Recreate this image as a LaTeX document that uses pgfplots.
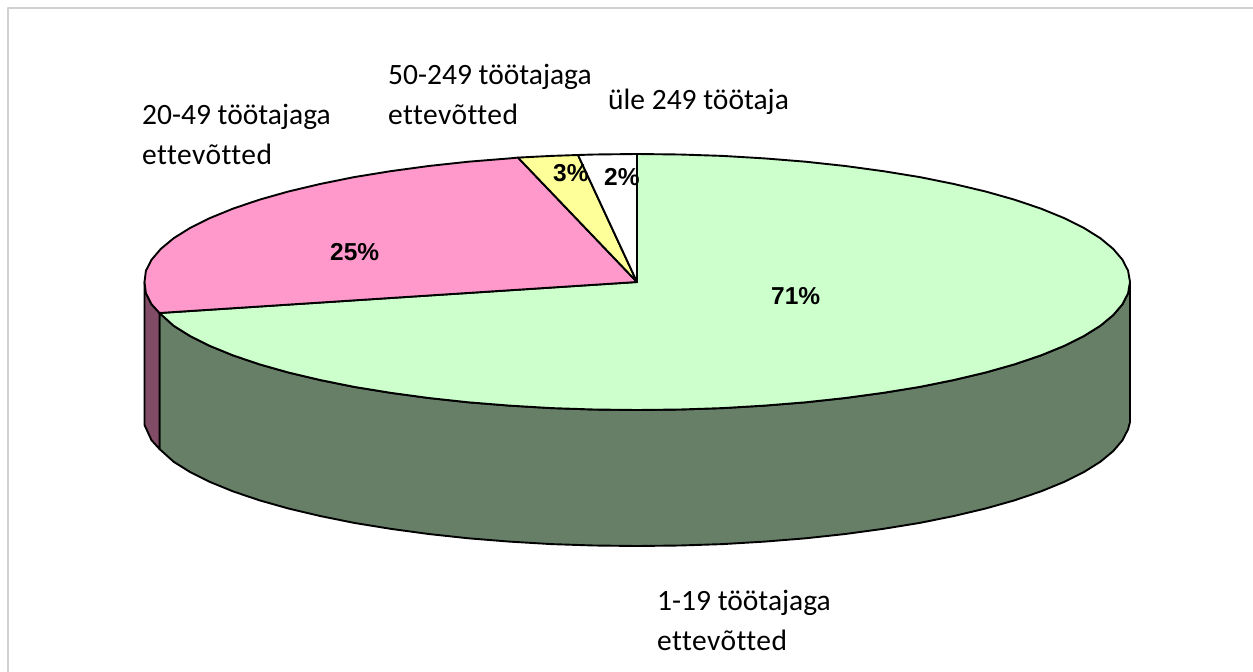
\documentclass[border=0pt]{standalone}
\usepackage{pgfplots}
\pgfplotsset{compat=1.18}
\usepackage{fontspec}
\setmainfont{Carlito}[Ligatures=NoCommon]
\newfontfamily\pctfont{Liberation Sans}[BoldFont={Liberation Sans Bold}]
\definecolor{cGreen}{HTML}{CCFFCC}
\definecolor{cPink}{HTML}{FF99CC}
\definecolor{cYellow}{HTML}{FFFF99}
\definecolor{cGreenWall}{HTML}{667F66}
\definecolor{cPinkWall}{HTML}{804C66}
\definecolor{cFrame}{HTML}{D0D0D0}
\begin{document}
\begin{tikzpicture}
\begin{axis}[
  width=1253pt, height=672pt, scale only axis,
  xmin=0, xmax=1253, ymin=0, ymax=672, y dir=reverse,
  hide axis, clip=true,
  every axis plot/.append style={line join=round},
]
% canvas corners
\addplot[draw=none, forget plot] coordinates {(0,0) (1253,672)};
% frame
\addplot[cFrame, line width=2pt] coordinates {(7.5,672) (7.5,7.5) (1253,7.5)};
% wall of 71 % slice
\addplot[fill=cGreenWall, draw=black, line width=1.9pt] coordinates {
(1130,282) (1128.1,293.2) (1122.5,304.2) (1113.2,315.1) (1100.3,325.8) (1083.8,336.1) (1063.9,346) (1040.9,355.4)
(1014.6,364.3) (985.6,372.5) (953.9,380) (919.8,386.9) (883.5,392.8) (845.3,398) (805.6,402.3) (764.6,405.6)
(722.6,408.1) (680,409.5) (637,410) (594,409.5) (551.4,408.1) (509.4,405.6) (468.4,402.3) (428.7,398)
(390.5,392.8) (354.2,386.9) (320.1,380) (288.4,372.5) (259.4,364.3) (233.1,355.4) (210.1,346) (190.2,336.1)
(173.7,325.8) (159.5,313)
(159.5,449) (173.7,461.8) (190.2,472.1) (210.1,482) (233.1,491.4) (259.4,500.3) (288.4,508.5) (320.1,516)
(354.2,522.9) (390.5,528.8) (428.7,534) (468.4,538.3) (509.4,541.6) (551.4,544.1) (594,545.5) (637,546)
(680,545.5) (722.6,544.1) (764.6,541.6) (805.6,538.3) (845.3,534) (883.5,528.8) (919.8,522.9) (953.9,516)
(985.6,508.5) (1014.6,500.3) (1040.9,491.4) (1063.9,482) (1083.8,472.1) (1100.3,461.8) (1113.2,451.1)
(1122.5,440.2) (1128.1,429.2) (1130,422)
} --cycle;
% wall of 25 % slice
\addplot[fill=cPinkWall, draw=black, line width=1.9pt] coordinates {
(159.5,313) (151.5,304.2) (145.9,293.2) (144.5,282) (144.5,425) (151.5,440.2) (159.5,449)
} --cycle;
% top: 71 %
\addplot[fill=cGreen, draw=black, line width=1.9pt] coordinates {
(637,282) (637,154) (680,154.5) (722.6,155.9) (764.6,158.4) (805.6,161.7) (845.3,166) (883.5,171.2) (919.8,177.1)
(953.9,184) (985.6,191.5) (1014.6,199.7) (1040.9,208.6) (1063.9,218) (1083.8,227.9) (1100.3,238.2) (1113.2,248.9)
(1122.5,259.8) (1128.1,270.8) (1130,282) (1128.1,293.2) (1122.5,304.2) (1113.2,315.1) (1100.3,325.8) (1083.8,336.1)
(1063.9,346) (1040.9,355.4) (1014.6,364.3) (985.6,372.5) (953.9,380) (919.8,386.9) (883.5,392.8) (845.3,398)
(805.6,402.3) (764.6,405.6) (722.6,408.1) (680,409.5) (637,410) (594,409.5) (551.4,408.1) (509.4,405.6) (468.4,402.3)
(428.7,398) (390.5,392.8) (354.2,386.9) (320.1,380) (288.4,372.5) (259.4,364.3) (233.1,355.4) (210.1,346) (190.2,336.1)
(173.7,325.8) (159.5,313)
} --cycle;
% top: 25 %
\addplot[fill=cPink, draw=black, line width=1.9pt] coordinates {
(637,282) (159.5,313) (151.5,304.2) (145.9,293.2) (144.5,282) (145.9,270.8) (151.5,259.8) (160.8,248.9) (173.7,238.2)
(190.2,227.9) (210.1,218) (233.1,208.6) (259.4,199.7) (288.4,191.5) (320.1,184) (354.2,177.1) (390.5,171.2)
(428.7,166) (468.4,161.7) (509.4,158.4) (518,157.6)
} --cycle;
% top: 3 %
\addplot[fill=cYellow, draw=black, line width=1.9pt] coordinates {
(637,282) (518,157.6) (551.4,155.9) (578,155)
} --cycle;
% top: 2 %
\addplot[fill=white, draw=black, line width=1.9pt] coordinates {
(637,282) (578,155) (594,154.5) (637,154)
} --cycle;
% percent labels
\begin{scope}[every node/.style={anchor=base west, inner sep=0pt, font=\pctfont\bfseries\fontsize{24.5}{28}\selectfont}]
\node at (axis cs:771,304) {71\%};
\node at (axis cs:330,260) {25\%};
\node at (axis cs:553,181) {3\%};
\node at (axis cs:604,185) {2\%};
\end{scope}
% category labels
\begin{scope}[every node/.style={anchor=base west, inner sep=0pt, font=\fontsize{29.5}{33}\selectfont}]
\node at (axis cs:142,124) {20-49 töötajaga};
\node at (axis cs:142,164) {\addfontfeature{LetterSpace=1.5}ettevõtted};
\node at (axis cs:388,84) {50-249 töötajaga};
\node at (axis cs:388,124) {\addfontfeature{LetterSpace=1.5}ettevõtted};
\node at (axis cs:608,109) {üle 249 töötaja};
\node at (axis cs:657,610) {1-19 töötajaga};
\node at (axis cs:657,650) {\addfontfeature{LetterSpace=1.5}ettevõtted};
\end{scope}
\end{axis}
\end{tikzpicture}
\end{document}
